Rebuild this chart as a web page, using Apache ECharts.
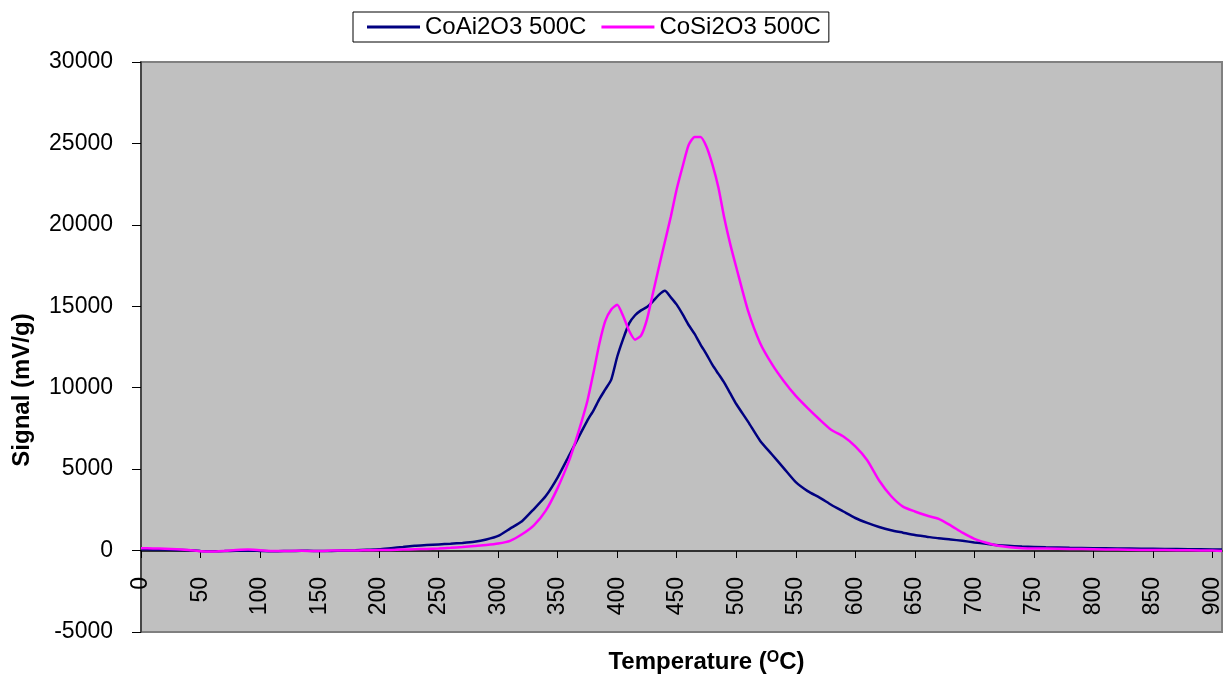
<!DOCTYPE html>
<html>
<head>
<meta charset="utf-8">
<script src="https://cdn.jsdelivr.net/npm/echarts@6/dist/echarts.min.js"></script>
<style>
  html, body { margin: 0; padding: 0; background: #fff; }
  #chart { width: 1225px; height: 678px; }
</style>
</head>
<body>
<div id="chart"></div>
<script>
  // temperature (C) readings
  const temps = [
    0, 10, 20, 30, 40, 50, 60, 70, 80, 90,
    100, 110, 120, 130, 140, 150, 160, 170, 180, 190,
    200, 210, 220, 230, 240, 250, 260, 270, 280, 290,
    300, 310, 320, 330, 340, 350, 360, 365, 370, 375,
    380, 385, 390, 395, 400, 405, 410, 415, 420, 425,
    430, 435, 440, 445, 450, 455, 460, 465, 470, 475,
    480, 485, 490, 495, 500, 510, 520, 530, 540, 550,
    560, 570, 580, 590, 600, 610, 620, 630, 640, 650,
    660, 670, 680, 690, 700, 710, 720, 740, 760, 780,
    800, 820, 840, 860, 880, 900, 908,
  ];

  const coAlSignal = [
    80, 70, 60, 40, 20, -20, -40, -30, -10, 0,
    -20, -40, -30, -20, -10, -30, -20, 0, 20, 50,
    80, 150, 220, 300, 340, 380, 420, 470, 540, 680,
    900, 1350, 1800, 2550, 3350, 4500, 5900, 6600, 7300, 8000,
    8600, 9300, 9900, 10500, 11900, 13000, 13950, 14450, 14750, 14950,
    15300, 15700, 15950, 15550, 15100, 14500, 13850, 13300, 12650, 12050,
    11400, 10850, 10300, 9650, 9000, 7900, 6750, 5900, 5050, 4200,
    3650, 3250, 2800, 2400, 2000, 1700, 1450, 1250, 1100, 950,
    850, 750, 680, 600, 500, 420, 330, 250, 200, 170,
    150, 130, 110, 100, 80, 70, 60,
  ];

  const coSiSignal = [
    150, 130, 110, 80, 40, -40, -60, -20, 30, 60,
    20, -20, -30, -10, -20, -30, 0, 10, 0, 20,
    30, 40, 60, 80, 100, 130, 170, 220, 280, 340,
    430, 600, 1000, 1550, 2450, 3850, 5600, 6700, 7900, 9200,
    10900, 12700, 14100, 14800, 15100, 14400, 13500, 12950, 13200, 14200,
    15800, 17400, 18950, 20500, 22200, 23600, 24900, 25400, 25400, 24800,
    23700, 22300, 20400, 18800, 17400, 14700, 12750, 11450, 10400, 9500,
    8750, 8050, 7400, 7000, 6400, 5550, 4300, 3350, 2700, 2400,
    2150, 1950, 1550, 1100, 720, 480, 300, 150, 130, 100,
    80, 60, 40, 30, 20, 0, -20,
  ];

  const xTicks = [0, 50, 100, 150, 200, 250, 300, 350, 400, 450, 500, 550, 600, 650, 700, 750, 800, 850, 900];

  const font = 'Liberation Sans, Arial, sans-serif';

  const chart = echarts.init(document.getElementById('chart'));

  const option = {
    animation: false,
    textStyle: { fontFamily: font, color: '#000' },
    legend: {
      left: 353,
      top: 12,
      padding: [3, 8, 3, 14],
      itemGap: 15,
      itemWidth: 53,
      itemHeight: 3,
      icon: 'rect',
      borderColor: '#000',
      borderWidth: 1,
      backgroundColor: '#fff',
      textStyle: { fontFamily: font, fontSize: 24, color: '#000' },
      data: ['CoAi2O3 500C', 'CoSi2O3 500C'],
    },
    grid: {
      left: 141,
      right: 3,
      top: 62,
      bottom: 46,
      outerBoundsMode: 'none',
      containLabel: false,
      show: true,
      backgroundColor: '#C0C0C0',
      borderColor: '#808080',
      borderWidth: 2,
    },
    xAxis: {
      type: 'value',
      position: 'bottom',
      // the axis sits on the zero line, 81px above the bottom of the plot
      offset: -81,
      min: 0,
      max: 908,
      interval: 50,
      name: 'Temperature ({sup|O}C)',
      nameLocation: 'middle',
      nameGap: 99,
      nameTextStyle: {
        fontFamily: font,
        fontSize: 24,
        fontWeight: 'bold',
        color: '#000',
        padding: [0, 0, 0, 50],
        rich: {
          sup: { fontFamily: font, fontSize: 16, fontWeight: 'bold', verticalAlign: 'top', color: '#000' },
        },
      },
      axisLine: { onZero: false, lineStyle: { color: '#000', width: 1.5 } },
      axisTick: { customValues: xTicks, length: 7, lineStyle: { color: '#000' } },
      axisLabel: {
        customValues: xTicks,
        rotate: 90,
        margin: 26,
        fontFamily: font,
        fontSize: 23,
        color: '#000',
      },
      splitLine: { show: false },
    },
    yAxis: {
      type: 'value',
      min: -5000,
      max: 30000,
      interval: 5000,
      name: 'Signal (mV/g)',
      nameLocation: 'middle',
      nameGap: 107,
      nameTextStyle: {
        fontFamily: font,
        fontSize: 24,
        fontWeight: 'bold',
        color: '#000',
        padding: [0, 86, 0, 0],
      },
      axisLine: { show: true, lineStyle: { color: '#333', width: 1.5 } },
      axisTick: { show: true, length: 9, lineStyle: { color: '#000' } },
      axisLabel: {
        margin: 28,
        fontFamily: font,
        fontSize: 23,
        color: '#000',
        formatter: (v) => String(v),
      },
      splitLine: { show: false },
    },
    series: [
      {
        name: 'CoAi2O3 500C',
        type: 'line',
        showSymbol: false,
        smooth: 0.2,
        data: temps.map((t, i) => [t, coAlSignal[i]]),
        lineStyle: { color: '#000080', width: 2.5 },
        itemStyle: { color: '#000080' },
      },
      {
        name: 'CoSi2O3 500C',
        type: 'line',
        showSymbol: false,
        smooth: 0.2,
        data: temps.map((t, i) => [t, coSiSignal[i]]),
        lineStyle: { color: '#FF00FF', width: 2.5 },
        itemStyle: { color: '#FF00FF' },
      },
    ],
  };

  chart.setOption(option);
</script>
</body>
</html>
